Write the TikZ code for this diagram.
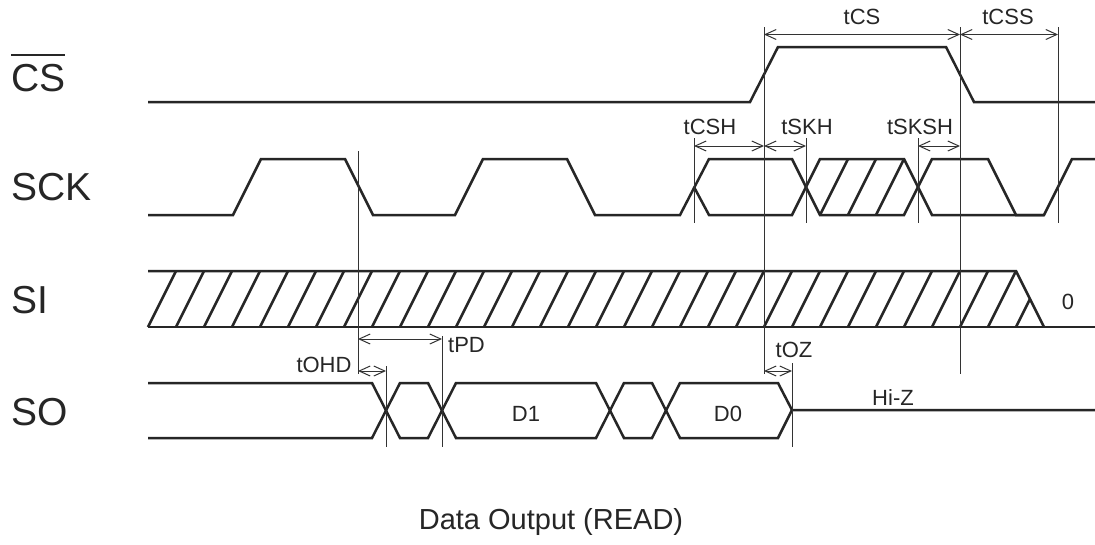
\documentclass[tikz,border=0pt]{standalone}
\usepackage{fontspec}
\setmainfont{Liberation Sans}
\usetikzlibrary{arrows.meta}
\tikzset{
    sig/.style={line width=2.5pt,draw=black!85,line join=miter},
    guide/.style={line width=1pt,draw=black!80},
    dim/.style={line width=1pt,draw=black!80,{Straight Barb[length=11pt,width=10pt]}-{Straight Barb[length=11pt,width=10pt]}},
    biglabel/.style={font=\fontsize{39}{39}\selectfont,text=black!85,anchor=west,inner sep=0pt},
    smalllabel/.style={font=\fontsize{22}{22}\selectfont,text=black!85,inner sep=0pt},
}
\begin{document}
\begin{tikzpicture}[x=1pt,y=-1pt]
    \useasboundingbox (0,0) rectangle (1095,544);
    \fill [white] (0,0) rectangle (1095,544);

    % signal names
    \node [biglabel] (cslabel) at (11,78) {CS};
    \draw [line width=1.5pt,draw=black!85] (11,55) -- (65,55);
    \node [biglabel] (scklabel) at (11,187) {SCK};
    \node [biglabel] (silabel) at (11,300) {SI};
    \node [biglabel] (solabel) at (11,412) {SO};

    % CS
    \draw [sig] (148,102) -- (750,102) -- (778,47) -- (946,47) -- (974,102) -- (1095,102);

    % SCK
    \draw [sig] (148,215) -- (233,215) -- (261,159) -- (345,159) -- (373,215) -- (455,215)
        -- (483,159) -- (567,159) -- (595,215) -- (680,215) -- (709,159) -- (792,159)
        -- (820,215) -- (904,215) -- (932,159) -- (988,159) -- (1016,215) -- (1044,215)
        -- (1072,159) -- (1095,159);
    \draw [sig] (694,187) -- (709,215) -- (792,215) -- (820,159) -- (904,159) -- (932,215) -- (1044,215);
    \foreach \x in {820,848,876}
        \draw [sig] (\x,215) -- ++(28,-56);

    % SI
    \draw [sig] (148,271) -- (1016,271) -- (1044,327);
    \draw [sig] (148,327) -- (1095,327);
    \foreach \k in {0,...,30}
        \draw [sig] (148+28*\k,327) -- ++(28,-56);
    \draw [sig] (1016,327) -- (1030,299);

    % SO
    \draw [sig] (148,383) -- (372,383) -- (400,438) -- (428,438) -- (456,383) -- (596,383)
        -- (624,438) -- (652,438) -- (680,383) -- (778,383) -- (792,410) -- (1095,410);
    \draw [sig] (148,438) -- (372,438) -- (400,383) -- (428,383) -- (456,438) -- (596,438)
        -- (624,383) -- (652,383) -- (680,438) -- (778,438) -- (792,410);

    % guide lines
    \draw [guide] (764,27) -- (764,374);
    \draw [guide] (960,27) -- (960,374);
    \draw [guide] (1058,27) -- (1058,223);
    \draw [guide] (694,138) -- (694,223);
    \draw [guide] (806,138) -- (806,223);
    \draw [guide] (918,138) -- (918,223);
    \draw [guide] (358,151) -- (358,374);
    \draw [guide] (386,366) -- (386,447);
    \draw [guide] (442,336) -- (442,447);
    \draw [guide] (792,363) -- (792,447);

    % timing marks
    \coordinate (csa) at (764,34.5);
    \coordinate (csb) at (960,34.5);
    \coordinate (cssb) at (1058,34.5);
    \coordinate (csha) at (694,146);
    \coordinate (cshb) at (764,146);
    \coordinate (skhb) at (806,146);
    \coordinate (sksha) at (918,146);
    \coordinate (skshb) at (960,146);
    \coordinate (pda) at (358,339);
    \coordinate (pdb) at (442,339);
    \coordinate (ohda) at (358,371);
    \coordinate (ohdb) at (386,371);
    \coordinate (oza) at (764,371);
    \coordinate (ozb) at (792,371);
    \draw [dim] (csa) -- (csb);
    \draw [dim] (csb) -- (cssb);
    \draw [dim] (csha) -- (cshb);
    \draw [dim] (cshb) -- (skhb);
    \draw [dim] (sksha) -- (skshb);
    \draw [dim] (pda) -- (pdb);
    \draw [dim] (ohda) -- (ohdb);
    \draw [dim] (oza) -- (ozb);

    % labels
    \node [smalllabel] (tcs) at (862,17) {tCS};
    \node [smalllabel] (tcss) at (1008,17) {tCSS};
    \node [smalllabel] (tcsh) at (710,127) {tCSH};
    \node [smalllabel] (tskh) at (807,127) {tSKH};
    \node [smalllabel] (tsksh) at (920,127) {tSKSH};
    \node [smalllabel,anchor=west] (tpd) at (448,345) {tPD};
    \node [smalllabel] (tohd) at (324,365) {tOHD};
    \node [smalllabel] (toz) at (794,350) {tOZ};
    \node [smalllabel] (hiz) at (893,398) {Hi-Z};
    \node [smalllabel] (dzero) at (728,414) {D0};
    \node [smalllabel] (done) at (526,414) {D1};
    \node [smalllabel] (zero) at (1068,302) {0};
    \node [font=\fontsize{29}{29}\selectfont,text=black!85,inner sep=0pt] (title) at (551,522) {Data Output (READ)};
\end{tikzpicture}
\end{document}
